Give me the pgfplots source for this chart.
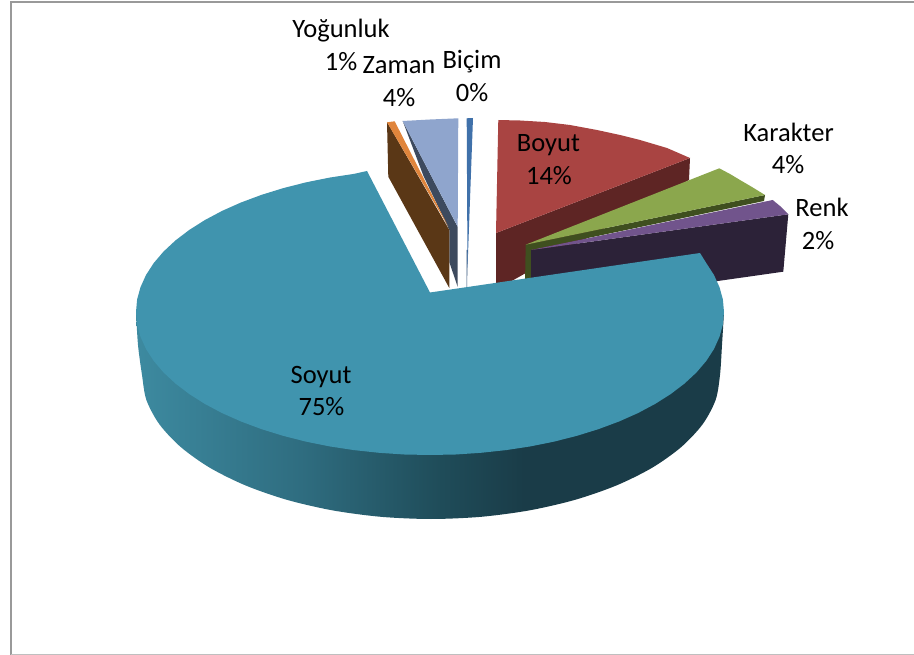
\documentclass[border=0pt]{standalone}
\usepackage{pgfplots}
\pgfplotsset{compat=1.18}
\usepackage{fontspec}
\setmainfont{Carlito}
\definecolor{tealtop}{RGB}{64,148,174}
\definecolor{teala}{RGB}{61,138,160}
\definecolor{tealb}{RGB}{47,109,128}
\definecolor{tealc}{RGB}{31,76,89}
\definecolor{teald}{RGB}{26,60,72}
\definecolor{redtop}{RGB}{169,68,66}
\definecolor{redside}{RGB}{94,37,36}
\definecolor{greentop}{RGB}{139,167,77}
\definecolor{greenside}{RGB}{63,79,31}
\definecolor{purptop}{RGB}{113,84,140}
\definecolor{purpside}{RGB}{44,34,56}
\definecolor{ltblue}{RGB}{143,165,205}
\definecolor{slate}{RGB}{61,74,94}
\definecolor{orangetop}{RGB}{224,133,60}
\definecolor{brownside}{RGB}{90,55,22}
\definecolor{bluetop}{RGB}{64,113,170}
\pgfdeclarehorizontalshading{tealside}{100bp}{color(0bp)=(teala); color(25bp)=(teala); color(39bp)=(tealb); color(51bp)=(tealc); color(58bp)=(teald); color(100bp)=(teald)}
\tikzset{lbl/.style={font=\fontsize{26.5}{32}\selectfont,text=black,anchor=base,inner sep=0pt}}
\begin{document}
\begin{tikzpicture}
\useasboundingbox (0,0) rectangle (914pt,655pt);
\begin{axis}[
  at={(0,0)},anchor=south west,
  width=914pt,height=655pt,scale only axis,
  xmin=0,xmax=914,ymin=0,ymax=655,y dir=reverse,
  hide axis,clip=true,
  every axis plot/.append style={forget plot}
]
% frame
\addplot[draw=black!40,line width=2pt] coordinates {(10.5,655) (10.5,2) (914,2)};
\addplot[draw=black!25,line width=1.5pt] coordinates {(10.5,654.5) (914,654.5)};
% Boyut
\addplot[fill=redside,draw=none] coordinates {(496,233) (690,158) (689,180) (496,290)} -- cycle;
\addplot[fill=redtop,draw=none] coordinates {(498.3,120) (520,120.5) (545,122) (570,125) (597,130) (620,135) (640,140) (667,148) (690,158) (496,233)} -- cycle;
% Karakter
\addplot[fill=greenside,draw=none] coordinates {(525.7,244.7) (765,195) (764,201) (531,250) (531,285) (525,285)} -- cycle;
\addplot[fill=greentop,draw=none] coordinates {(525.7,244.7) (719.3,168.3) (730,174) (740,180) (752,187) (765,195)} -- cycle;
% Renk
\addplot[fill=purpside,draw=none] coordinates {(531,250) (788.3,214.3) (783.3,271.7) (720,280.7) (531,307)} -- cycle;
\addplot[fill=purptop,draw=none] coordinates {(531,250) (772.7,200) (780,206) (788.3,214.3)} -- cycle;
% Zaman
\addplot[fill=slate,draw=none] coordinates {(402.7,121) (457.7,227) (457.7,287) (449.3,262) (449.3,230) (423.5,176)} -- cycle;
\addplot[fill=ltblue,draw=none] coordinates {(402.7,121) (430,119.5) (458.3,118.3) (457.7,226.7)} -- cycle;
% Yogunluk
\addplot[fill=brownside,draw=none] coordinates {(387,122) (449.3,230) (449.3,288) (388.3,176.7)} -- cycle;
\addplot[fill=orangetop,draw=none] coordinates {(387,122.3) (394.7,121.3) (448.3,226.7)} -- cycle;
% Bicim
\addplot[fill=bluetop!70!black,draw=none] coordinates {(466.7,250) (467.8,250) (467,287) (466.5,287)} -- cycle;
\addplot[fill=bluetop,draw=none] coordinates {(466.7,118.3) (473,118) (467.5,268)} -- cycle;
% Soyut side
\addplot[shade,shading=tealside,draw=none,smooth] coordinates {
(136,312) (138,345) (142,375) (146.4,400) (159.4,424.3) (180.7,447) (209.6,467.6) (245.2,485.3) (286.5,499.7) (332.2,510.3) (380.8,516.8) (431,519) (481.2,516.8) (529.8,510.3) (575.5,499.7) (616.8,485.3) (652.4,467.6) (681.3,447) (702.6,424.3) (715.6,400) (720,375) (722,345) (724,312)} -- cycle;
% Soyut top
\addplot[fill=tealtop,draw=none] coordinates {
(367,171) (353.9,173.9) (329.5,177.6) (305.8,182.4) (283.0,188.2) (261.4,194.9) (241.0,202.5) (222.1,210.9) (204.8,220.1) (189.2,230.0) (175.4,240.5) (163.5,251.6) (153.7,263.1) (146.0,275.0) (140.5,287.2) (137.1,299.5) (136,312)
(137.1,324.5) (140.5,336.8) (146.0,349.0) (153.7,360.9) (163.5,372.4) (175.4,383.5) (189.2,394.0) (204.8,403.9) (222.1,413.1) (241.0,421.5) (261.4,429.1) (283.0,435.8) (305.8,441.6) (329.5,446.4) (353.9,450.1) (379.0,452.8) (404.4,454.5) (430,455)
(455.6,454.5) (481.0,452.8) (506.1,450.1) (530.5,446.4) (554.2,441.6) (577.0,435.8) (598.6,429.1) (619.0,421.5) (637.9,413.1) (655.2,403.9) (670.8,394.0) (684.6,383.5) (696.5,372.4) (706.3,360.9) (714.0,349.0) (719.5,336.8) (722.9,324.5) (724,312)
(722.9,299.5) (719.5,287.2) (714.0,275.0) (706.3,263.1) (700,253) (430,292.5)} -- cycle;
% labels
\node[lbl] at (axis cs:341,38) {Yoğunluk};
\node[lbl] at (axis cs:341,70.5) {1\%};
\node[lbl] at (axis cs:399,74) {Zaman};
\node[lbl] at (axis cs:399,106.5) {4\%};
\node[lbl] at (axis cs:472,69) {Biçim};
\node[lbl] at (axis cs:472,101.5) {0\%};
\node[lbl] at (axis cs:548.5,152) {Boyut};
\node[lbl] at (axis cs:549,184.5) {14\%};
\node[lbl] at (axis cs:788.5,141.5) {Karakter};
\node[lbl] at (axis cs:788,173.5) {4\%};
\node[lbl] at (axis cs:822,217) {Renk};
\node[lbl] at (axis cs:818,250) {2\%};
\node[lbl] at (axis cs:321,384) {Soyut};
\node[lbl] at (axis cs:321.5,415.5) {75\%};
\end{axis}
\end{tikzpicture}
\end{document}
